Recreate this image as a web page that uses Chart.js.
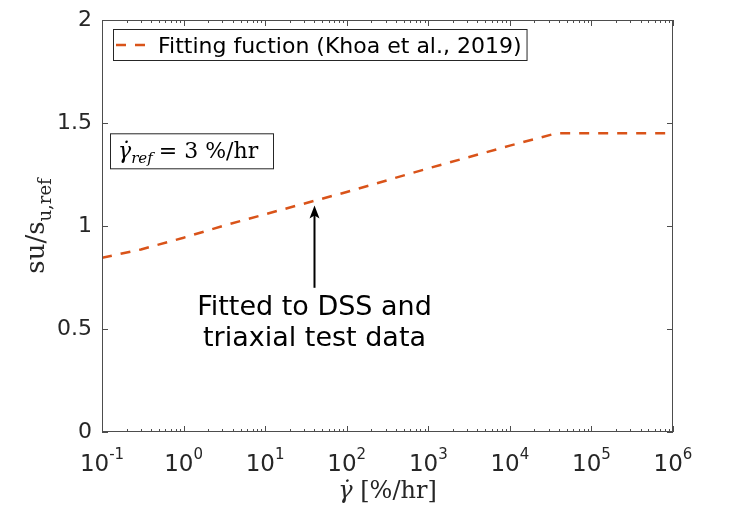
<!DOCTYPE html>
<html lang="en">
<head>
  <meta charset="UTF-8">
  <title>Strain rate effect</title>
  <style>
    body {
      margin: 0;
      background: #ffffff;
    }
    #chart-box {
      width: 729px;
      height: 506px;
    }
  </style>
</head>
<body>
  <div id="chart-box">
    <canvas id="rate-chart" width="729" height="506"></canvas>
  </div>

  <script src="https://cdn.jsdelivr.net/npm/chart.js"></script>
  <script>
    // values
    const strainRates = [0.1, 0.3, 1, 3, 10, 100, 1000, 10000, 37000, 1000000];
    const strengthRatio = [0.846, 0.886, 0.943, 1.0, 1.057, 1.165, 1.28, 1.39, 1.45, 1.45];
    const seriesLabel = "Fitting fuction (Khoa et al., 2019)";

    const xTickValues = [0.1, 1, 10, 100, 1000, 10000, 100000, 1000000];
    const xTickExponents = ["-1", "0", "1", "2", "3", "4", "5", "6"];
    const yTickValues = [0, 0.5, 1, 1.5, 2];
    const yTickLabels = ["0", "0.5", "1", "1.5", "2"];

    const arrowAt = 40;          // strain rate the arrow points to
    const arrowFrom = 0.70;
    const arrowTo = 1.10;
    const noteLines = ["Fitted to DSS and", "triaxial test data"];

    const lineColor = "#D95319";
    const axisColor = "#262626";
    const sans = "'DejaVu Sans', sans-serif";
    const serif = "'DejaVu Serif', 'Liberation Serif', serif";

    // axes box, ticks, labels and the text notes (matlab style)
    const matlabAxes = {
      id: "matlabAxes",
      afterDraw(chart) {
        const ctx = chart.ctx;
        const area = chart.chartArea;
        const xs = chart.scales.x;
        const ys = chart.scales.y;
        ctx.save();

        // box
        ctx.strokeStyle = "#4d4d4d";
        ctx.lineWidth = 1;
        ctx.strokeRect(area.left + 0.5, area.top + 0.5, area.right - area.left - 1, area.bottom - area.top - 1);

        // x ticks (major + minor), bottom and top
        ctx.beginPath();
        for (let e = -1; e <= 6; e++) {
          for (let m = 1; m <= 9; m++) {
            const v = m * Math.pow(10, e);
            if (v > 1000000) break;
            const px = Math.round(xs.getPixelForValue(v)) + 0.5;
            const len = m === 1 ? 6 : 3;
            ctx.moveTo(px, area.bottom);
            ctx.lineTo(px, area.bottom - len);
            ctx.moveTo(px, area.top);
            ctx.lineTo(px, area.top + len);
          }
        }
        // y ticks, left and right
        yTickValues.forEach(v => {
          const py = Math.round(ys.getPixelForValue(v)) + 0.5;
          ctx.moveTo(area.left, py);
          ctx.lineTo(area.left + 6, py);
          ctx.moveTo(area.right, py);
          ctx.lineTo(area.right - 6, py);
        });
        ctx.stroke();

        // tick labels
        ctx.fillStyle = axisColor;
        ctx.font = "22px " + sans;
        ctx.textAlign = "right";
        ctx.textBaseline = "middle";
        yTickValues.forEach((v, i) => {
          ctx.fillText(yTickLabels[i], area.left - 10, ys.getPixelForValue(v));
        });

        ctx.textBaseline = "alphabetic";
        xTickValues.forEach((v, i) => {
          const px = xs.getPixelForValue(v);
          ctx.font = "23px " + sans;
          const baseW = ctx.measureText("10").width;
          ctx.font = "15px " + sans;
          const expW = ctx.measureText(xTickExponents[i]).width;
          const start = px - (baseW + expW) / 2;
          ctx.textAlign = "left";
          ctx.font = "23px " + sans;
          ctx.fillText("10", start, area.bottom + 39);
          ctx.font = "15px " + sans;
          ctx.fillText(xTickExponents[i], start + baseW, area.bottom + 27);
        });

        // x axis title
        ctx.font = "italic 24px " + serif;
        const g = "\u03B3\u0307";
        const gW = ctx.measureText(g).width;
        ctx.font = "24px " + serif;
        const rest = " [%/hr]";
        const rW = ctx.measureText(rest).width;
        const cx = (area.left + area.right) / 2;
        let tx = cx - (gW + rW) / 2;
        ctx.font = "italic 24px " + serif;
        ctx.fillText(g, tx, area.bottom + 66);
        ctx.font = "24px " + serif;
        ctx.fillText(rest, tx + gW, area.bottom + 66);

        // y axis title
        ctx.save();
        ctx.translate(44, (area.top + area.bottom) / 2);
        ctx.rotate(-Math.PI / 2);
        ctx.font = "26px " + serif;
        const main = "su/s";
        const mW = ctx.measureText(main).width;
        ctx.font = "18px " + serif;
        const sub = "u,ref";
        const sW = ctx.measureText(sub).width;
        const sx = -(mW + sW) / 2;
        ctx.font = "26px " + serif;
        ctx.fillText(main, sx, 0);
        ctx.font = "18px " + serif;
        ctx.fillText(sub, sx + mW, 7);
        ctx.restore();

        // legend
        const ds = chart.data.datasets[0];
        const lx = area.left + 11, ly = area.top + 9;
        ctx.font = "22px " + sans;
        const legW = ctx.measureText(ds.label).width;
        ctx.fillStyle = "#ffffff";
        ctx.fillRect(lx, ly, legW + 50, 31);
        ctx.strokeStyle = "#262626";
        ctx.strokeRect(lx + 0.5, ly + 0.5, legW + 50, 31);
        ctx.strokeStyle = ds.borderColor;
        ctx.lineWidth = ds.borderWidth;
        ctx.setLineDash(ds.borderDash);
        ctx.beginPath();
        ctx.moveTo(lx + 3, ly + 16);
        ctx.lineTo(lx + 33, ly + 16);
        ctx.stroke();
        ctx.setLineDash([]);
        ctx.fillStyle = "#000000";
        ctx.textAlign = "left";
        ctx.fillText(ds.label, lx + 45, ly + 24);

        // reference rate box
        const bx = area.left + 8, by = ys.getPixelForValue(1.45);
        ctx.lineWidth = 1;
        ctx.strokeStyle = "#262626";
        ctx.strokeRect(bx + 0.5, by + 0.5, 163, 35);
        ctx.fillStyle = "#000000";
        let px0 = bx + 8;
        ctx.font = "italic 22px " + serif;
        ctx.fillText("\u03B3\u0307", px0, by + 25);
        px0 += ctx.measureText("\u03B3\u0307").width;
        ctx.font = "italic 15px " + serif;
        ctx.fillText("ref", px0, by + 30);
        px0 += ctx.measureText("ref").width + 6;
        ctx.font = "22px " + serif;
        ctx.fillText("= 3 %/hr", px0, by + 25);

        // arrow and note
        const ax = Math.round(xs.getPixelForValue(arrowAt)) + 0.5;
        const y0 = ys.getPixelForValue(arrowFrom);
        const y1 = ys.getPixelForValue(arrowTo);
        ctx.strokeStyle = "#000000";
        ctx.lineWidth = 2;
        ctx.beginPath();
        ctx.moveTo(ax, y0);
        ctx.lineTo(ax, y1 + 8);
        ctx.stroke();
        ctx.fillStyle = "#000000";
        ctx.beginPath();
        ctx.moveTo(ax, y1);
        ctx.lineTo(ax - 5, y1 + 13);
        ctx.lineTo(ax, y1 + 10);
        ctx.lineTo(ax + 5, y1 + 13);
        ctx.closePath();
        ctx.fill();

        ctx.font = "27px " + sans;
        ctx.textAlign = "center";
        noteLines.forEach((t, i) => {
          ctx.fillText(t, ax, y0 + 27 + i * 31);
        });

        ctx.restore();
      }
    };

    const ctx = document.getElementById("rate-chart").getContext("2d");

    new Chart(ctx, {
      type: "scatter",
      data: {
        datasets: [
          {
            label: seriesLabel,
            data: strainRates.map((r, i) => ({ x: r, y: strengthRatio[i] })),
            borderColor: lineColor,
            borderWidth: 2.5,
            borderDash: [10, 9],
            showLine: true,
            pointRadius: 0,
            fill: false,
          },
        ],
      },
      options: {
        responsive: false,
        animation: false,
        layout: {
          padding: { left: 102, right: 56, top: 20, bottom: 74 },
        },
        scales: {
          x: { type: "logarithmic", min: 0.1, max: 1000000, display: false },
          y: { type: "linear", min: 0, max: 2, display: false },
        },
        plugins: {
          legend: { display: false },
          tooltip: { enabled: false },
        },
      },
      plugins: [matlabAxes],
    });
  </script>
</body>
</html>
